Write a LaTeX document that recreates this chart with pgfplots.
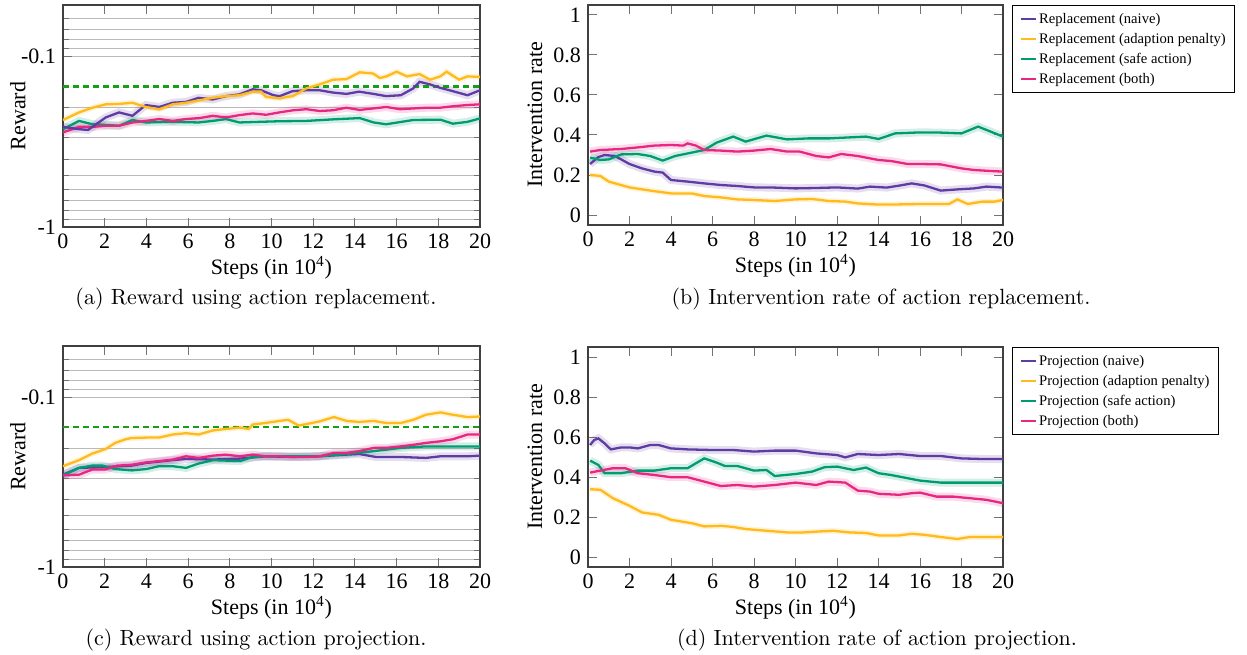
\documentclass[border=0pt]{standalone}
\usepackage{fontspec}
\setmainfont{Liberation Serif}
\newfontfamily\lmr{Latin Modern Roman}
\usepackage{pgfplots}
\usepackage{pgfplotstable}
\pgfplotsset{compat=1.18}

\definecolor{cNaive}{RGB}{94,60,163}
\definecolor{cPen}{RGB}{255,186,28}
\definecolor{cSafe}{RGB}{0,155,112}
\definecolor{cBoth}{RGB}{230,40,130}
\definecolor{cRef}{RGB}{20,160,20}

% ---- (a) reward, replacement (values are -reward) ----
\pgfplotstableread{
x y
0 0.259
0.77 0.267
1.2 0.270
2.05 0.228
2.69 0.213
3.33 0.223
3.97 0.193
4.62 0.198
5.26 0.187
5.9 0.185
6.5 0.175
7.18 0.179
7.82 0.171
8.46 0.167
9.1 0.156
9.5 0.158
10.1 0.169
10.4 0.171
11.0 0.160
11.67 0.158
12.3 0.158
12.95 0.163
13.6 0.166
14.2 0.161
14.9 0.166
15.5 0.171
16.2 0.169
16.8 0.154
17.1 0.141
17.6 0.146
18.1 0.153
18.7 0.160
19.4 0.169
20 0.158
}\RaNaive
\pgfplotstableread{
x y
0 0.236
0.77 0.213
1.41 0.200
2.05 0.191
2.69 0.190
3.33 0.187
3.97 0.198
4.62 0.204
5.26 0.191
5.9 0.187
6.54 0.181
7.18 0.175
7.82 0.171
8.46 0.169
9.1 0.161
9.5 0.161
9.74 0.173
10.38 0.176
11.03 0.171
11.67 0.154
12.31 0.146
12.95 0.137
13.59 0.136
14.23 0.124
14.87 0.126
15.2 0.134
15.51 0.131
16.0 0.123
16.5 0.131
17.1 0.127
17.6 0.137
18.1 0.131
18.4 0.123
19.0 0.137
19.4 0.131
20 0.132
}\RaPen
\pgfplotstableread{
x y
0 0.267
0.77 0.239
1.41 0.250
2.05 0.252
2.69 0.255
3.33 0.236
3.97 0.244
5.26 0.242
6.5 0.244
7.18 0.239
7.82 0.233
8.46 0.244
10.38 0.240
11.67 0.239
12.95 0.234
14.23 0.230
14.9 0.244
15.5 0.250
16.8 0.236
18.1 0.235
18.7 0.248
19.4 0.242
20 0.231
}\RaSafe
\pgfplotstableread{
x y
0 0.279
0.77 0.259
1.41 0.259
2.05 0.255
2.69 0.255
3.33 0.244
3.97 0.239
4.62 0.233
5.26 0.239
5.9 0.233
6.54 0.230
7.18 0.223
7.82 0.228
8.46 0.221
9.1 0.216
9.74 0.220
10.38 0.213
11.03 0.207
11.67 0.204
12.31 0.209
12.95 0.207
13.59 0.200
14.23 0.206
14.87 0.202
15.51 0.198
16.15 0.204
16.79 0.202
17.44 0.200
18.08 0.200
18.72 0.196
19.36 0.193
20 0.191
}\RaBoth

% ---- (b) intervention rate, replacement ----
\pgfplotstableread{
x y
0.1 0.255
0.5 0.290
0.8 0.300
1.3 0.295
2 0.255
2.6 0.233
3.2 0.217
3.6 0.212
4 0.175
4.8 0.167
5.6 0.158
6.4 0.150
7.2 0.145
8 0.138
9 0.137
10 0.133
11 0.135
12 0.138
13 0.132
13.6 0.142
14.4 0.137
15 0.147
15.6 0.158
16.2 0.148
17 0.122
17.8 0.128
18.6 0.133
19.2 0.142
20 0.137
}\RbNaive
\pgfplotstableread{
x y
0.1 0.200
0.6 0.195
1 0.167
2 0.138
3 0.122
4 0.108
5 0.108
5.6 0.095
6.4 0.088
7.2 0.078
8 0.075
9 0.070
10 0.078
10.8 0.080
11.6 0.070
12.4 0.067
13 0.058
14 0.052
15 0.053
16 0.055
17 0.055
17.4 0.055
17.8 0.078
18.3 0.055
19 0.067
19.6 0.067
20 0.075
}\RbPen
\pgfplotstableread{
x y
0.1 0.287
0.6 0.275
1 0.278
1.6 0.303
2.4 0.305
3 0.295
3.6 0.272
4.2 0.295
5 0.312
5.6 0.325
6.2 0.362
7 0.392
7.6 0.367
8.6 0.397
9.6 0.378
10.6 0.383
11.6 0.383
12.6 0.388
13.4 0.392
14 0.380
14.8 0.408
16 0.413
17 0.412
18 0.408
18.8 0.442
19.4 0.417
20 0.392
}\RbSafe
\pgfplotstableread{
x y
0.1 0.317
0.6 0.325
1.6 0.330
2.4 0.338
3.2 0.347
4 0.350
4.6 0.347
4.8 0.358
5.2 0.347
5.6 0.325
6.4 0.322
7.2 0.317
8 0.322
8.8 0.330
9.6 0.317
10.2 0.317
11 0.295
11.6 0.288
12.2 0.305
13 0.295
14 0.275
14.6 0.270
15.4 0.255
16 0.255
17 0.253
18 0.233
18.6 0.225
19.4 0.220
20 0.217
}\RbBoth

% ---- (c) reward, projection (values are -reward) ----
\pgfplotstableread{
x y
0 0.286
0.77 0.261
2 0.258
3.3 0.253
4 0.244
5.26 0.235
5.9 0.231
7.2 0.233
8.5 0.230
9.7 0.223
11 0.225
12.3 0.223
13.6 0.218
14.2 0.216
15 0.225
16.2 0.225
17.4 0.228
18.1 0.223
19.4 0.223
20 0.221
}\RcNaive
\pgfplotstableread{
x y
0 0.255
0.77 0.235
1.4 0.215
2.05 0.202
2.5 0.186
3 0.177
3.3 0.174
4 0.173
4.6 0.173
5.26 0.166
5.9 0.163
6.5 0.166
7.2 0.157
7.8 0.154
8.5 0.151
8.9 0.154
9.1 0.145
9.7 0.142
10.4 0.138
10.8 0.136
11.3 0.147
11.7 0.144
12.3 0.139
13 0.131
13.6 0.138
14.2 0.140
14.9 0.138
15.5 0.142
16.2 0.142
16.8 0.136
17.4 0.127
18.1 0.123
18.7 0.127
19.4 0.131
20 0.130
}\RcPen
\pgfplotstableread{
x y
0 0.289
0.77 0.261
1.4 0.253
1.9 0.253
2.5 0.265
3.3 0.270
4 0.265
4.6 0.255
5.26 0.255
5.9 0.261
6.5 0.246
7.2 0.235
8.5 0.238
9.1 0.225
9.7 0.223
11 0.223
12.3 0.223
13.6 0.216
14.9 0.208
16.2 0.199
17.4 0.195
18.7 0.195
20 0.195
}\RcSafe
\pgfplotstableread{
x y
0 0.289
0.77 0.286
1.4 0.267
2 0.267
2.6 0.253
3.3 0.250
4 0.242
4.6 0.238
5.26 0.233
5.9 0.223
6.5 0.228
7.2 0.221
7.8 0.218
8.5 0.223
9.1 0.218
9.7 0.223
10.4 0.223
11 0.225
11.7 0.225
12.3 0.223
13 0.213
13.6 0.213
14.2 0.208
14.9 0.199
15.5 0.199
16.2 0.195
16.8 0.191
17.4 0.186
18.1 0.182
18.7 0.177
19.4 0.166
20 0.166
}\RcBoth

% ---- (d) intervention rate, projection ----
\pgfplotstableread{
x y
0.1 0.560
0.3 0.585
0.5 0.593
0.8 0.568
1.1 0.538
1.6 0.548
2 0.548
2.4 0.543
3 0.560
3.4 0.560
4 0.543
4.8 0.538
6 0.535
7 0.535
8 0.527
9 0.532
10 0.532
11 0.518
12 0.510
12.4 0.498
13 0.515
14 0.510
15 0.515
16 0.505
17 0.505
18 0.493
19 0.490
20 0.490
}\RdNaive
\pgfplotstableread{
x y
0.1 0.339
0.6 0.336
1.2 0.294
2 0.256
2.6 0.223
3.4 0.211
4 0.186
5 0.169
5.6 0.153
6.4 0.156
7 0.150
7.6 0.140
8.4 0.133
9 0.128
9.6 0.123
10.4 0.123
11.2 0.128
11.8 0.131
12.6 0.123
13.4 0.120
14 0.108
15 0.108
15.6 0.116
16.2 0.111
17 0.100
17.8 0.090
18.4 0.100
19.2 0.100
20 0.100
}\RdPen
\pgfplotstableread{
x y
0.1 0.482
0.5 0.460
0.8 0.419
1.6 0.419
2.4 0.432
3.2 0.432
4 0.444
4.8 0.444
5.6 0.493
6.2 0.472
6.6 0.455
7.2 0.455
8 0.432
8.6 0.435
9 0.405
10 0.415
10.8 0.427
11.4 0.449
12 0.452
12.8 0.435
13.4 0.447
14 0.419
14.6 0.410
15.4 0.394
16 0.382
17 0.372
18 0.372
19 0.372
20 0.372
}\RdSafe
\pgfplotstableread{
x y
0.1 0.422
0.6 0.432
1.2 0.444
1.8 0.444
2.4 0.419
3.2 0.410
4 0.399
4.8 0.399
5.6 0.377
6.4 0.355
7.2 0.360
8 0.352
9 0.360
10 0.372
11 0.360
11.6 0.377
12.4 0.372
13 0.332
13.6 0.327
14 0.316
15 0.311
15.6 0.319
16 0.322
16.8 0.302
17.6 0.302
18.4 0.294
19.2 0.286
20 0.269
}\RdBoth

\pgfplotsset{
  myaxisbase/.style={
    scale only axis, anchor=south west,
    xmin=0, xmax=20, xtick={0,2,...,20},
    tick label style={font=\fontsize{11}{13}\selectfont},
    label style={font=\fontsize{11}{13}\selectfont},
    /pgf/number format/assume math mode=true,
    axis line style={black!75, line width=0.6pt},
    tick style={black!55, line width=0.5pt},
    xlabel={Steps (in 10\textsuperscript{4})},
    xlabel style={at={(axis description cs:0.5,0)}, anchor=base, yshift=-23.5pt},
  },
  myreward/.style={
    myaxisbase, width=208.5pt,
    ymin=0.05, ymax=1,
    ytick={0.1,1}, yticklabels={-0.1,-1},
    minor ytick={0.06,0.07,0.08,0.09,0.2,0.3,0.4,0.5,0.6,0.7,0.8,0.9},
    ymajorgrids, yminorgrids,
    major grid style={gray!55, line width=0.45pt},
    minor grid style={gray!55, line width=0.45pt},
    ylabel={Reward},
    ylabel style={at={(axis description cs:-0.108,0.5)}, anchor=center},
  },
  myrate/.style={
    myaxisbase, width=207.5pt,
    ymin=-0.05, ymax=1.05, ytick={0,0.2,0.4,0.6,0.8,1},
    ylabel={Intervention rate},
    ylabel style={at={(axis description cs:-0.128,0.5)}, anchor=center},
    legend style={at={(axis description cs:1,1)}, xshift=4.5pt, anchor=north west,
      draw=black, line width=0.6pt, font=\fontsize{7.3}{9}\selectfont,
      inner xsep=3.4pt, inner ysep=1.7pt,
      nodes={inner sep=1.2pt, text height=6pt, text depth=1.6pt}},
    legend cell align=left,
    legend image code/.code={\draw[##1, line width=1.2pt] (0pt,0pt) -- (7.5pt,0pt);},
  },
  myln/.style={line width=1.15pt, color=#1},
  myband/.style={line width=4pt, color=#1, opacity=0.17, forget plot},
  mybandt/.style={line width=2.8pt, color=#1, opacity=0.17, forget plot},
}

\begin{document}
\begin{tikzpicture}
\path[use as bounding box] (0,0) rectangle (623.5pt,327pt);

% (a)
\begin{axis}[ymode=log, y dir=reverse, myreward, at={(31.5pt,213.5pt)}, height=111pt]
\addplot[myband=cSafe] table {\RaSafe};
\addplot[myband=cBoth] table {\RaBoth};
\addplot[myband=cNaive] table {\RaNaive};
\addplot[mybandt=cPen] table {\RaPen};
\addplot[cRef, line width=1.1pt, dash pattern=on 3pt off 2pt] coordinates {(0,0.15) (20,0.15)};
\addplot[myln=cSafe] table {\RaSafe};
\addplot[myln=cBoth] table {\RaBoth};
\addplot[myln=cNaive] table {\RaNaive};
\addplot[myln=cPen] table {\RaPen};
\end{axis}

% (b)
\begin{axis}[myrate, at={(294pt,214.5pt)}, height=110pt]
\addplot[myband=cNaive] table {\RbNaive};
\addplot[mybandt=cPen] table {\RbPen};
\addplot[myband=cSafe] table {\RbSafe};
\addplot[myband=cBoth] table {\RbBoth};
\addplot[myln=cNaive] table {\RbNaive};
\addlegendentry{Replacement (naive)}
\addplot[myln=cPen] table {\RbPen};
\addlegendentry{Replacement (adaption penalty)}
\addplot[myln=cSafe] table {\RbSafe};
\addlegendentry{Replacement (safe action)}
\addplot[myln=cBoth] table {\RbBoth};
\addlegendentry{Replacement (both)}
\end{axis}

% (c)
\begin{axis}[ymode=log, y dir=reverse, myreward, at={(31.5pt,43.5pt)}, height=110.5pt]
\addplot[myband=cSafe] table {\RcSafe};
\addplot[myband=cBoth] table {\RcBoth};
\addplot[myband=cNaive] table {\RcNaive};
\addplot[mybandt=cPen] table {\RcPen};
\addplot[cRef, line width=1.1pt, dash pattern=on 3pt off 2pt] coordinates {(0,0.15) (20,0.15)};
\addplot[myln=cNaive] table {\RcNaive};
\addplot[myln=cSafe] table {\RcSafe};
\addplot[myln=cBoth] table {\RcBoth};
\addplot[myln=cPen] table {\RcPen};
\end{axis}

% (d)
\begin{axis}[myrate, at={(294pt,43.5pt)}, height=110pt]
\addplot[myband=cNaive] table {\RdNaive};
\addplot[mybandt=cPen] table {\RdPen};
\addplot[myband=cSafe] table {\RdSafe};
\addplot[myband=cBoth] table {\RdBoth};
\addplot[myln=cNaive] table {\RdNaive};
\addlegendentry{Projection (naive)}
\addplot[myln=cPen] table {\RdPen};
\addlegendentry{Projection (adaption penalty)}
\addplot[myln=cSafe] table {\RdSafe};
\addlegendentry{Projection (safe action)}
\addplot[myln=cBoth] table {\RdBoth};
\addlegendentry{Projection (both)}
\end{axis}

\node[font=\lmr\fontsize{11}{13}\selectfont, anchor=base] at (128pt,175pt) {(a) Reward using action replacement.};
\node[font=\lmr\fontsize{11}{13}\selectfont, anchor=base] at (440.5pt,175pt) {(b) Intervention rate of action replacement.};
\node[font=\lmr\fontsize{11}{13}\selectfont, anchor=base] at (128pt,4.5pt) {(c) Reward using action projection.};
\node[font=\lmr\fontsize{11}{13}\selectfont, anchor=base] at (438.5pt,4.5pt) {(d) Intervention rate of action projection.};
\end{tikzpicture}
\end{document}
